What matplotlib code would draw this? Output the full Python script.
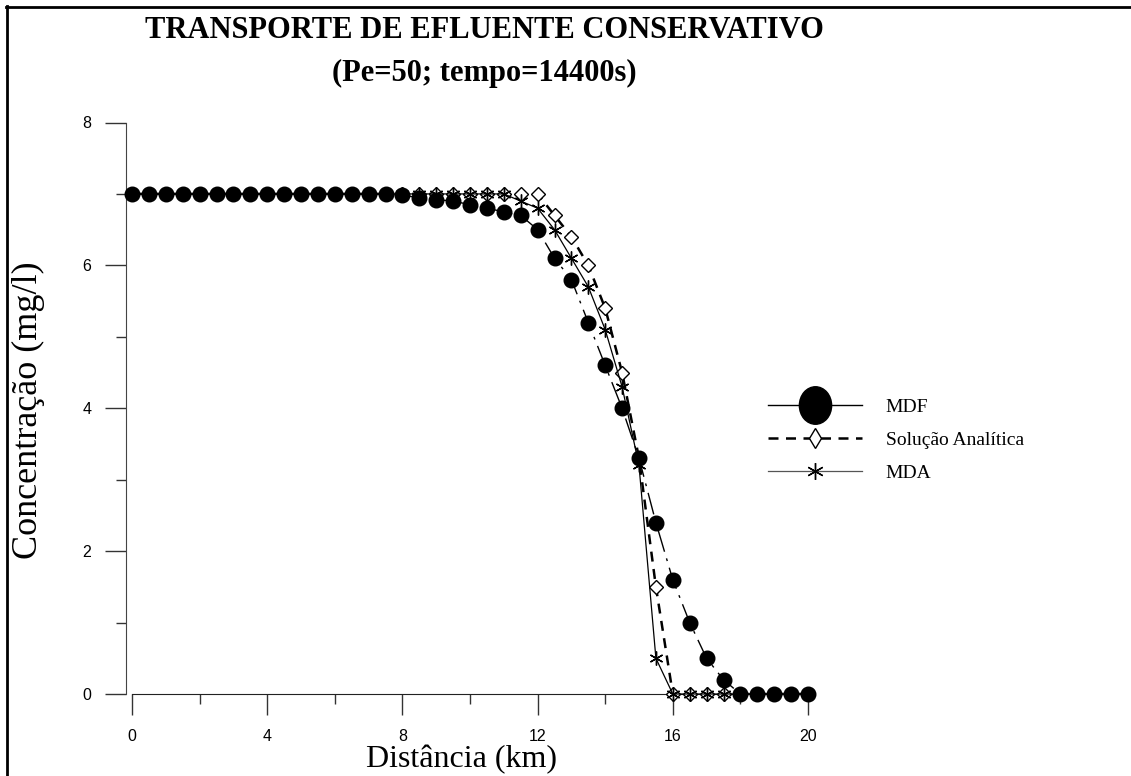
import numpy as np
import matplotlib.pyplot as plt
from matplotlib.lines import Line2D
from matplotlib.path import Path
from matplotlib.ticker import MultipleLocator

# distancia (km) e concentracoes (mg/l)
distancia = [0.0, 0.5, 1.0, 1.5, 2.0, 2.5, 3.0, 3.5, 4.0, 4.5, 5.0, 5.5, 6.0, 6.5,
             7.0, 7.5, 8.0, 8.5, 9.0, 9.5, 10.0, 10.5, 11.0, 11.5, 12.0, 12.5,
             13.0, 13.5, 14.0, 14.5, 15.0, 15.5, 16.0, 16.5, 17.0, 17.5, 18.0,
             18.5, 19.0, 19.5, 20.0]

mdf = [7.0, 7.0, 7.0, 7.0, 7.0, 7.0, 7.0, 7.0, 7.0, 7.0, 7.0, 7.0, 7.0, 7.0,
       7.0, 7.0, 6.98, 6.95, 6.92, 6.9, 6.85, 6.8, 6.75, 6.7, 6.5, 6.1,
       5.8, 5.2, 4.6, 4.0, 3.3, 2.4, 1.6, 1.0, 0.5, 0.2, 0.0,
       0.0, 0.0, 0.0, 0.0]

analitica = [7.0, 7.0, 7.0, 7.0, 7.0, 7.0, 7.0, 7.0, 7.0, 7.0, 7.0, 7.0, 7.0, 7.0,
             7.0, 7.0, 7.0, 7.0, 7.0, 7.0, 7.0, 7.0, 7.0, 7.0, 7.0, 6.7,
             6.4, 6.0, 5.4, 4.5, 3.3, 1.5, 0.0, 0.0, 0.0, 0.0, 0.0,
             0.0, 0.0, 0.0, 0.0]

mda = [7.0, 7.0, 7.0, 7.0, 7.0, 7.0, 7.0, 7.0, 7.0, 7.0, 7.0, 7.0, 7.0, 7.0,
       7.0, 7.0, 7.0, 7.0, 7.0, 7.0, 7.0, 7.0, 7.0, 6.9, 6.8, 6.5,
       6.1, 5.7, 5.1, 4.3, 3.2, 0.5, 0.0, 0.0, 0.0, 0.0, 0.0,
       0.0, 0.0, 0.0, 0.0]

serif = 'Liberation Serif'
sans = 'Liberation Sans'

W, H = 1131, 776
fig = plt.figure(figsize=(W / 100, H / 100), dpi=100)
ax = fig.add_axes([132 / W, 82 / H, 676 / W, 571.5 / H])

asterisco = (6, 2, 0)

ax.plot(distancia, analitica, color='black', lw=1.8, dashes=(4, 3),
        marker='D', ms=7, mfc='white', mec='black', mew=1.0,
        clip_on=False, zorder=3)
ax.plot(distancia, mda, color='black', lw=0.9, ls='-',
        marker=asterisco, ms=10, mec='black', mew=1.0,
        clip_on=False, zorder=4)
ax.plot(distancia, mdf, color='black', lw=1.0, dashes=(16, 5, 2, 5),
        marker='o', ms=10.5, mfc='black', mec='black',
        clip_on=False, zorder=5)

ax.set_xlim(0, 20)
ax.set_ylim(0, 8)

for s in ['top', 'right']:
    ax.spines[s].set_visible(False)
ax.spines['left'].set_position(('outward', 4.3))
ax.spines['left'].set_color('#444444')
ax.spines['bottom'].set_color('#222222')

ax.xaxis.set_major_locator(MultipleLocator(4))
ax.xaxis.set_minor_locator(MultipleLocator(2))
ax.yaxis.set_major_locator(MultipleLocator(2))
ax.yaxis.set_minor_locator(MultipleLocator(1))
ax.tick_params(axis='both', which='major', length=15, width=1, color='#333333',
               labelsize=11.5, pad=10)
ax.tick_params(axis='both', which='minor', length=7.5, width=1, color='#333333')
for lab in ax.get_xticklabels() + ax.get_yticklabels():
    lab.set_family(sans)

fig.text(462 / W, 1 - 760 / H, 'Distância (km)', ha='center', va='center',
         fontsize=23, family=serif)
fig.text(28 / W, 1 - 410 / H, 'Concentração (mg/l)', ha='center', va='center',
         rotation=90, fontsize=26, family=serif)

fig.text(484 / W, 1 - 30 / H, 'TRANSPORTE DE EFLUENTE CONSERVATIVO',
         ha='center', va='center', fontsize=22, weight='bold', family=serif)
fig.text(484 / W, 1 - 73 / H, '(Pe=50; tempo=14400s)',
         ha='center', va='center', fontsize=22, weight='bold', family=serif)

# marcador elíptico da legenda
elipse = Path.unit_circle()
elipse = Path(elipse.vertices * np.array([0.86, 1.0]), elipse.codes)

handles = [
    Line2D([], [], color='black', lw=1.0, ls='-', marker=elipse, ms=27,
           mfc='black', mec='black'),
    Line2D([], [], color='black', lw=1.8, dashes=(4, 3), marker='d', ms=10,
           mfc='white', mec='black', mew=1.0),
    Line2D([], [], color='#555555', lw=0.9, ls='-', marker=asterisco, ms=12,
           mec='black', mew=1.0),
]
labels = ['MDF', 'Solução Analítica', 'MDA']
leg = fig.legend(handles, labels, loc='center left',
                 bbox_to_anchor=(768 / W, 1 - 440 / H), frameon=False,
                 borderpad=0, borderaxespad=0, numpoints=1,
                 handlelength=4.85, handletextpad=1.2, labelspacing=0.8,
                 prop={'family': serif, 'size': 14})

# moldura externa
fig.add_artist(Line2D([6 / W, 1], [1 - 7 / H, 1 - 7 / H], color='black',
                      lw=2.0, transform=fig.transFigure))
fig.add_artist(Line2D([7 / W, 7 / W], [0, 1 - 6 / H], color='black',
                      lw=2.0, transform=fig.transFigure))

fig.savefig('out.png', dpi=100, facecolor='white')
